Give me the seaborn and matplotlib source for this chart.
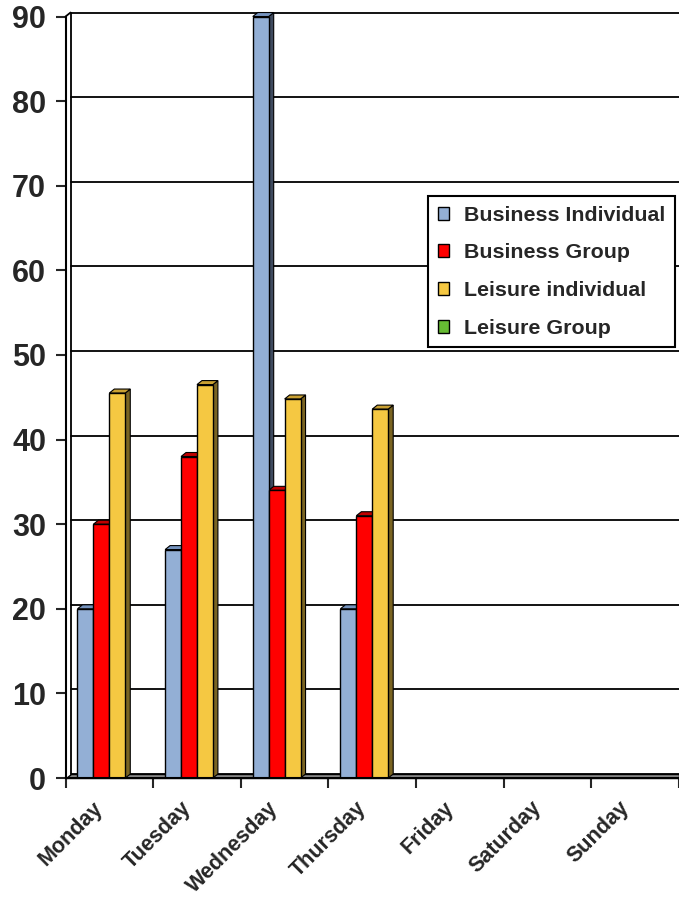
import numpy as np
import pandas as pd
import seaborn as sns
import matplotlib.pyplot as plt
from matplotlib.patches import Polygon, Patch
from matplotlib.transforms import ScaledTranslation

days = ["Monday", "Tuesday", "Wednesday", "Thursday", "Friday", "Saturday", "Sunday"]
series = ["Business Individual", "Business Group", "Leisure individual", "Leisure Group"]
business_individual = [20, 27, 90, 20, 0, 0, 0]
business_group = [30, 38, 34, 31, 0, 0, 0]
leisure_individual = [45.5, 46.5, 44.8, 43.6, 0, 0, 0]
leisure_group = [0, 0, 0, 0, 0, 0, 0]
y_ticks = list(range(0, 91, 10))

front_colors = ["#93AFD5", "#FF0000", "#F5C842", "#66BB33"]
top_colors = ["#7593BE", "#C00000", "#C9A032", "#4D9926"]
side_colors = ["#3E4A5E", "#800000", "#7A6422", "#336619"]

df = pd.DataFrame({
    "day": days * 4,
    "series": np.repeat(series, len(days)),
    "value": business_individual + business_group + leisure_individual + leisure_group,
})

sns.set_style("white")
plt.rcParams["font.family"] = ["Liberation Sans", "DejaVu Sans"]
plt.rcParams["font.weight"] = "bold"

fig = plt.figure(figsize=(6.79, 8.98), dpi=100)
ax = fig.add_axes([0.0965, 0.1336, 0.9035, 0.848])

sns.barplot(data=df, x="day", y="value", hue="series", order=days, hue_order=series,
            palette=front_colors, saturation=1, width=0.727, errorbar=None,
            edgecolor="black", linewidth=1.0, legend=False, ax=ax, zorder=4)

xmin, xmax = -0.5, len(days) - 0.5
ymax = 90
ax.set_xlim(xmin, xmax)
ax.set_ylim(0, ymax)

# depth of the fake 3d effect, in pixels -> data units
ax_w = fig.get_figwidth() * fig.dpi * 0.9035
ax_h = fig.get_figheight() * fig.dpi * 0.848
ddx = 5 * (xmax - xmin) / ax_w
ddy = 4 * ymax / ax_h

# back wall gridlines, floor and wall edges
for y in y_ticks:
    ax.plot([xmin + ddx, xmax], [y + ddy, y + ddy], color="black", lw=1.3, zorder=1, clip_on=False)
ax.plot([xmin + ddx, xmin + ddx], [ddy, ymax + ddy], color="black", lw=1.3, zorder=1, clip_on=False)
ax.plot([xmin, xmin + ddx], [ymax, ymax + ddy], color="black", lw=1.3, zorder=1, clip_on=False)
floor = Polygon([(xmin, 0), (xmax, 0), (xmax, ddy), (xmin + ddx, ddy)], closed=True,
                facecolor="#8c8c8c", edgecolor="black", lw=1.0, zorder=2, clip_on=False)
ax.add_patch(floor)

# side and top faces for each bar
for i, cont in enumerate(ax.containers):
    for bar in cont:
        x0, w, h = bar.get_x(), bar.get_width(), bar.get_height()
        if h <= 0:
            continue
        side = Polygon([(x0 + w, 0), (x0 + w, h), (x0 + w + ddx, h + ddy), (x0 + w + ddx, ddy)],
                       closed=True, facecolor=side_colors[i], edgecolor="black", lw=0.8,
                       zorder=3, clip_on=False)
        top = Polygon([(x0, h), (x0 + w, h), (x0 + w + ddx, h + ddy), (x0 + ddx, h + ddy)],
                      closed=True, facecolor=top_colors[i], edgecolor="black", lw=0.8,
                      zorder=3, clip_on=False)
        ax.add_patch(side)
        ax.add_patch(top)

ax.set_xlabel("")
ax.set_ylabel("")
ax.set_yticks(y_ticks)
ax.set_yticklabels([str(v) for v in y_ticks], fontsize=22, fontweight="bold")
ax.tick_params(axis="y", direction="out", length=7.5, width=1.5, pad=6.5, left=True)

ax.set_xticks(np.arange(xmin, xmax + 0.01, 1.0))
ax.set_xticklabels([])
ax.set_xticks(range(len(days)), minor=True)
ax.set_xticklabels(days, minor=True, rotation=45, ha="right", rotation_mode="anchor",
                   fontsize=15.5, fontweight="bold")
ax.tick_params(axis="x", which="major", direction="out", length=7.5, width=1.5, bottom=True)
ax.tick_params(axis="x", which="minor", length=0, pad=10)
shift = ScaledTranslation(-12 / 72, -4 / 72, fig.dpi_scale_trans)
for lbl in ax.get_xticklabels(minor=True):
    lbl.set_transform(lbl.get_transform() + shift)

for s in ["top", "right"]:
    ax.spines[s].set_visible(False)
for s in ["left", "bottom"]:
    ax.spines[s].set_color("black")
    ax.spines[s].set_linewidth(1.5)
    ax.spines[s].set_zorder(5)

handles = [Patch(facecolor=c, edgecolor="black", lw=1.0) for c in front_colors]
leg = ax.legend(handles, series, loc="upper left", bbox_to_anchor=(0.591, 0.764),
                frameon=True, fancybox=False, edgecolor="black", framealpha=1,
                prop={"weight": "bold", "size": 15.4}, handlelength=0.55, handleheight=0.55,
                handletextpad=0.7, labelspacing=0.87, borderpad=0.45, borderaxespad=0)
leg.get_frame().set_linewidth(1.5)
leg.set_zorder(10)

fig.savefig("out.png", dpi=100)
